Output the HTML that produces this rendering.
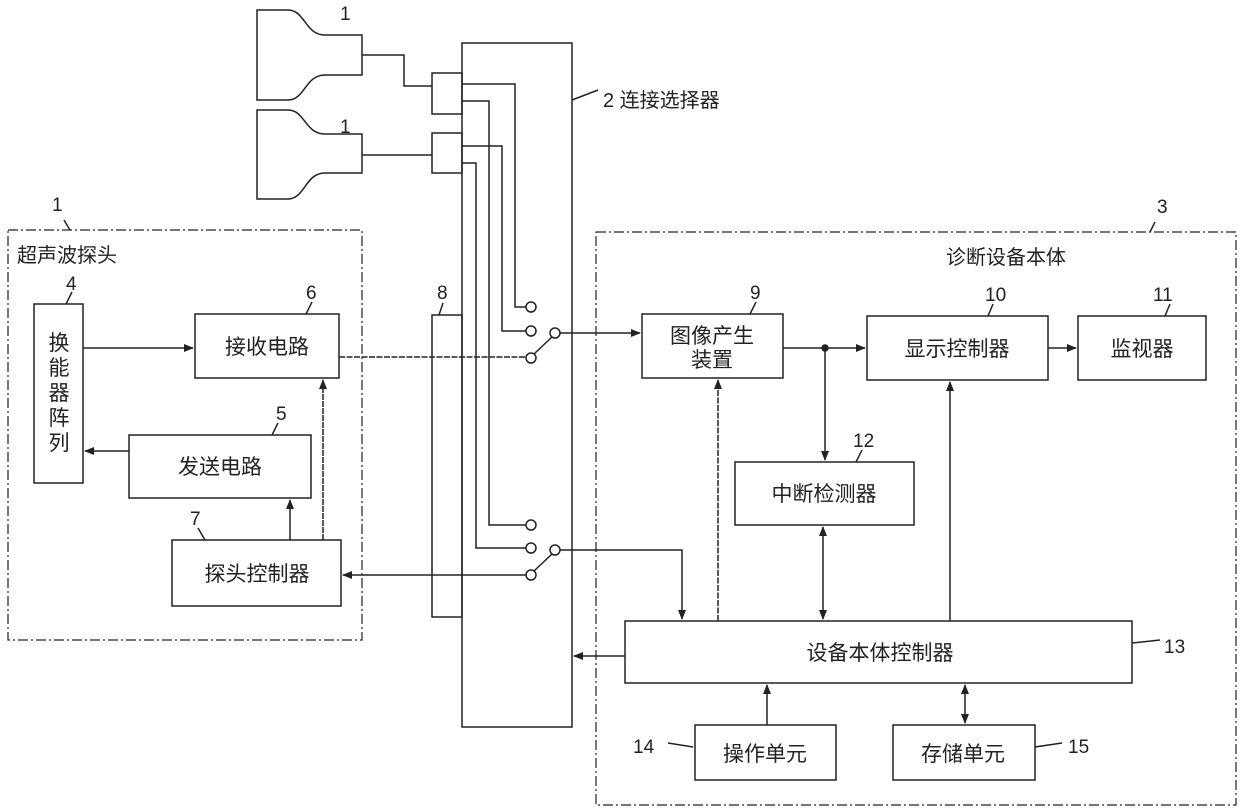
<!DOCTYPE html>
<html><head><meta charset="utf-8"><style>
html,body{margin:0;padding:0;background:#fff;}
svg{display:block;}
text{font-family:"Liberation Sans","Noto Sans CJK SC",sans-serif;fill:#222;}
</style></head><body>
<svg width="1240" height="812" viewBox="0 0 1240 812" xmlns="http://www.w3.org/2000/svg">
<defs>
<marker id="a" markerWidth="10" markerHeight="8" refX="9" refY="4" orient="auto" markerUnits="userSpaceOnUse">
<path d="M0,0 L10,4 L0,8 Z" fill="#222"/></marker>
<marker id="s" markerWidth="10" markerHeight="8" refX="1" refY="4" orient="auto" markerUnits="userSpaceOnUse">
<path d="M10,0 L0,4 L10,8 Z" fill="#222"/></marker>
</defs>
<g fill="none" stroke="#222" stroke-width="1.5">
<path d="M257,10 L288,10 C305,10 305,35 325,35 L362,35 L362,75 L325,75 C305,75 305,100 288,100 L257,100 Z"/>
<path d="M257,110 L288,110 C305,110 305,134 325,134 L362,134 L362,173 L325,173 C305,173 305,199 288,199 L257,199 Z"/>
<path d="M362,55 L404,55 L404,86 L432,86"/>
<path d="M362,155 L432,155"/>
<rect x="432" y="73" width="30" height="41"/>
<rect x="432" y="133" width="30" height="40"/>
<rect x="462" y="43" width="110" height="684"/>
<path d="M572,100 L598,90"/>
<rect x="432" y="315" width="30" height="302"/>
<path d="M439,315 L443,303"/>
<path d="M462,84 L515,84 L515,307 L526,307"/>
<path d="M462,101 L489,101 L489,525 L526,525"/>
<path d="M462,146 L502,146 L502,331 L526,331"/>
<path d="M462,163 L476,163 L476,548 L526,548"/>
<circle cx="531" cy="307" r="5" fill="#fff"/>
<circle cx="531" cy="331" r="5" fill="#fff"/>
<circle cx="531" cy="358" r="5" fill="#fff"/>
<circle cx="555" cy="333" r="5" fill="#fff"/>
<path d="M534,354 L552,337"/>
<circle cx="531" cy="525" r="5" fill="#fff"/>
<circle cx="531" cy="548" r="5" fill="#fff"/>
<circle cx="531" cy="575" r="5" fill="#fff"/>
<circle cx="555" cy="550" r="5" fill="#fff"/>
<path d="M534,571 L552,554"/>
<rect x="8" y="230" width="354" height="410" stroke-dasharray="10,3,2,3" stroke-width="1.2"/>
<rect x="596" y="232" width="640" height="573" stroke-dasharray="10,3,2,3" stroke-width="1.2"/>
<path d="M64,220 L70,230"/>
<path d="M1150,232 L1155,222"/>
<rect x="34" y="304" width="49" height="179"/>
<path d="M66,304 L72,292"/>
<rect x="195" y="314" width="144" height="64"/>
<path d="M306,314 L312,302"/>
<rect x="129" y="435" width="182" height="63"/>
<path d="M272,435 L278,423"/>
<rect x="172" y="540" width="169" height="66"/>
<path d="M205,540 L198,528"/>
<path d="M83,348 L193,348" marker-end="url(#a)"/>
<path d="M129,451 L85,451" marker-end="url(#a)"/>
<path d="M290,540 L290,500" marker-end="url(#a)"/>
<path d="M323,540 L323,380" marker-end="url(#a)" stroke-dasharray="6,1"/>
<path d="M339,357 L526,357" stroke-dasharray="6,1.5"/>
<path d="M526,575 L343,575" marker-end="url(#a)"/>
<rect x="642" y="314" width="141" height="64"/>
<path d="M750,314 L756,302"/>
<rect x="867" y="316" width="181" height="64"/>
<path d="M988,316 L993,304"/>
<rect x="1078" y="316" width="128" height="64"/>
<path d="M1165,316 L1170,304"/>
<rect x="735" y="462" width="179" height="63"/>
<path d="M856,462 L862,450"/>
<rect x="625" y="621" width="507" height="62"/>
<path d="M1132,643 L1160,640"/>
<rect x="695" y="725" width="141" height="55"/>
<path d="M668,743 L693,747"/>
<rect x="893" y="725" width="142" height="55"/>
<path d="M1035,747 L1062,743"/>
<path d="M560,333 L640,333" marker-end="url(#a)"/>
<path d="M560,550 L682,550 L682,619" marker-end="url(#a)"/>
<path d="M625,656 L574,656" marker-end="url(#a)"/>
<path d="M783,348 L865,348" marker-end="url(#a)"/>
<circle cx="825" cy="348" r="3" fill="#222"/>
<path d="M825,348 L825,460" marker-end="url(#a)"/>
<path d="M823,527 L823,619" marker-start="url(#s)" marker-end="url(#a)"/>
<path d="M718,621 L718,380" marker-end="url(#a)" stroke-dasharray="6,1.5"/>
<path d="M950,621 L950,382" marker-end="url(#a)"/>
<path d="M1048,348 L1076,348" marker-end="url(#a)"/>
<path d="M767,725 L767,685" marker-end="url(#a)"/>
<path d="M965,685 L965,723" marker-start="url(#s)" marker-end="url(#a)"/>
</g>
<g font-size="19">
<text x="340" y="20">1</text>
<text x="340" y="133">1</text>
<text x="603" y="107" font-size="20">2 连接选择器</text>
<text x="52" y="211">1</text>
<text x="1157" y="213">3</text>
<text x="17" y="262" font-size="20">超声波探头</text>
<text x="946" y="264" font-size="20">诊断设备本体</text>
<text x="66" y="290">4</text>
<text x="306" y="299">6</text>
<text x="276" y="420">5</text>
<text x="190" y="525">7</text>
<text x="437" y="299">8</text>
<text x="750" y="299">9</text>
<text x="985" y="301">10</text>
<text x="1153" y="301">11</text>
<text x="853" y="447">12</text>
<text x="1164" y="653">13</text>
<text x="633" y="753">14</text>
<text x="1068" y="753">15</text>
</g>
<g font-size="21" text-anchor="middle">
<text x="59" y="350">换</text>
<text x="59" y="375">能</text>
<text x="59" y="400">器</text>
<text x="59" y="425">阵</text>
<text x="59" y="450">列</text>
<text x="267" y="354">接收电路</text>
<text x="220" y="474">发送电路</text>
<text x="257" y="581">探头控制器</text>
<text x="712" y="343">图像产生</text>
<text x="712" y="367">装置</text>
<text x="957" y="356">显示控制器</text>
<text x="1142" y="356">监视器</text>
<text x="824" y="501">中断检测器</text>
<text x="880" y="660">设备本体控制器</text>
<text x="765" y="761">操作单元</text>
<text x="963" y="761">存储单元</text>
</g>
</svg>
</body></html>
